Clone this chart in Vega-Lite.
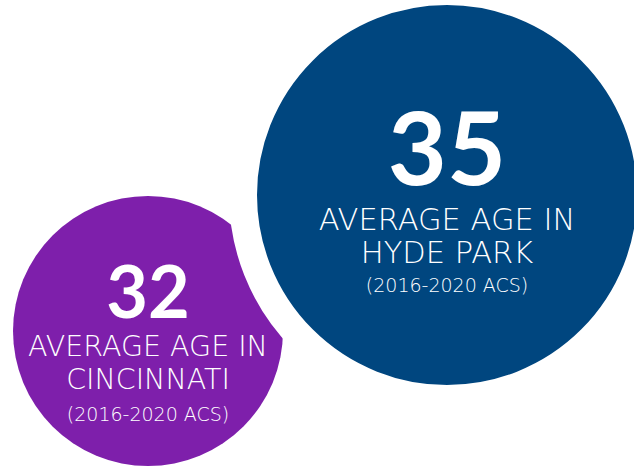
{
  "$schema": "https://vega.github.io/schema/vega-lite/v6.json",
  "width": 634,
  "height": 466,
  "autosize": {"type": "none"},
  "padding": 0,
  "background": "#ffffff",
  "config": {"view": {"stroke": null}, "axis": {"domain": false}},
  "data": {
    "values": [
      {"place": "Cincinnati", "age": 32, "label": ["AVERAGE AGE IN", "CINCINNATI"], "source": "(2016-2020 ACS)"},
      {"place": "Hyde Park", "age": 35, "label": ["AVERAGE AGE IN", "HYDE PARK"], "source": "(2016-2020 ACS)"}
    ]
  },
  "encoding": {
    "x": {"field": "place", "type": "nominal", "axis": null,
          "scale": {"type": "point", "domain": ["Cincinnati", "Hyde Park"], "range": [148, 447], "padding": 0}}
  },
  "layer": [
    {
      "mark": {"type": "point", "shape": "circle", "filled": true, "opacity": 1, "stroke": "#ffffff", "strokeOpacity": 1},
      "encoding": {
        "y": {"field": "place", "type": "nominal", "axis": null,
              "scale": {"type": "point", "domain": ["Cincinnati", "Hyde Park"], "range": [331, 195], "padding": 0}},
        "size": {"field": "place", "type": "ordinal", "legend": null,
                 "scale": {"domain": ["Cincinnati", "Hyde Park"], "range": [72900, 166464]}},
        "strokeWidth": {"field": "place", "type": "ordinal", "legend": null,
                 "scale": {"domain": ["Cincinnati", "Hyde Park"], "range": [0, 28]}},
        "color": {"field": "place", "type": "nominal", "legend": null,
                  "scale": {"domain": ["Cincinnati", "Hyde Park"], "range": ["#7e1fab", "#00467f"]}}
      }
    },
    {
      "mark": {"type": "text", "font": "Lato", "fontWeight": "bold", "color": "#ffffff", "align": "center", "baseline": "alphabetic"},
      "encoding": {
        "text": {"field": "age", "type": "quantitative"},
        "y": {"field": "place", "type": "nominal", "axis": null,
              "scale": {"type": "point", "domain": ["Cincinnati", "Hyde Park"], "range": [318, 185], "padding": 0}},
        "size": {"field": "place", "type": "ordinal", "legend": null,
                 "scale": {"domain": ["Cincinnati", "Hyde Park"], "range": [72, 102]}}
      }
    },
    {
      "mark": {"type": "text", "font": "DejaVu Sans", "fontWeight": 200, "color": "#ffffff", "align": "center", "baseline": "alphabetic", "lineHeight": 33},
      "encoding": {
        "text": {"field": "label"},
        "y": {"field": "place", "type": "nominal", "axis": null,
              "scale": {"type": "point", "domain": ["Cincinnati", "Hyde Park"], "range": [356, 230], "padding": 0}},
        "size": {"field": "place", "type": "ordinal", "legend": null,
                 "scale": {"domain": ["Cincinnati", "Hyde Park"], "range": [28.5, 30.5]}}
      }
    },
    {
      "mark": {"type": "text", "font": "DejaVu Sans", "fontWeight": 200, "fontSize": 19, "color": "#ffffff", "align": "center", "baseline": "alphabetic"},
      "encoding": {
        "text": {"field": "source"},
        "y": {"field": "place", "type": "nominal", "axis": null,
              "scale": {"type": "point", "domain": ["Cincinnati", "Hyde Park"], "range": [421, 292], "padding": 0}}
      }
    }
  ],
  "resolve": {"scale": {"y": "independent", "size": "independent"}}
}
